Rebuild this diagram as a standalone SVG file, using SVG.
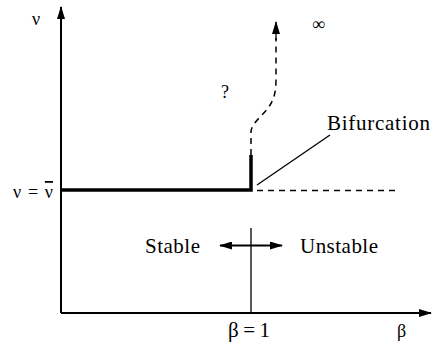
<svg xmlns="http://www.w3.org/2000/svg" width="437" height="353" viewBox="0 0 437 353">
<style>
text{font-family:"Liberation Serif","DejaVu Serif",serif;font-size:21px;fill:#000}
.sm{font-size:18px}
.ax{stroke:#000;stroke-width:2;fill:none}
.thin{stroke:#000;stroke-width:1.3;fill:none}
.thick{stroke:#000;stroke-width:3.5;fill:none}
.dash{stroke:#000;stroke-width:1.5;fill:none;stroke-dasharray:6,5}
</style>
<defs>
<marker id="ah" markerWidth="13" markerHeight="8" refX="12" refY="4" orient="auto" markerUnits="userSpaceOnUse">
<path d="M0,0 L13,4 L0,8 Z" fill="#000"/>
</marker>
</defs>
<rect width="437" height="353" fill="#fff"/>
<g id="axes">
<line class="ax" x1="61" y1="313" x2="61" y2="7" marker-end="url(#ah)"/>
<line class="ax" x1="61" y1="313" x2="431" y2="313" marker-end="url(#ah)"/>
<text class="sm" x="32" y="25">ν</text>
<text class="sm" x="397" y="337" font-size="20">β</text>
<text class="sm" x="13" y="198" textLength="40">ν = <tspan text-decoration="overline">ν</tspan></text>
<text x="228" y="337" font-size="20" textLength="42">β = 1</text>
</g>
<g id="connectors">
<path class="thick" d="M61,190 H251 V155"/>
<path class="dash" d="M257,190.5 H397"/>
<path class="dash" d="M251,155 V132 C251,124 262,116 268,108 C274,100 276,92 276,80 V38"/>
<line class="thin" x1="276" y1="40" x2="276" y2="22" marker-end="url(#ah)"/>
<line class="thin" x1="257" y1="185" x2="330" y2="135"/>
<line class="thin" x1="251" y1="228" x2="251" y2="313"/>
<line class="ax" x1="251" y1="245.5" x2="220" y2="245.5" marker-end="url(#ah)"/>
<line class="ax" x1="251" y1="245.5" x2="282" y2="245.5" marker-end="url(#ah)"/>
</g>
<g id="labels">
<text class="sm" x="312" y="30">∞</text>
<text class="sm" x="221" y="98">?</text>
<text x="327" y="130" textLength="103">Bifurcation</text>
<text x="145" y="253" textLength="55">Stable</text>
<text x="300" y="253" textLength="78">Unstable</text>
</g>
</svg>
